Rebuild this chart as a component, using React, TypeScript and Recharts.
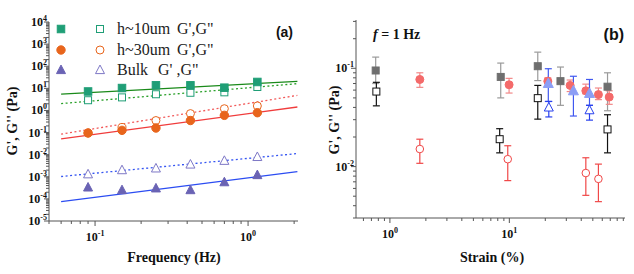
import React from "react";
import { ComposedChart, Scatter, Line, XAxis, YAxis, ErrorBar } from "recharts";

// ---------- Panel (a): frequency sweep ----------
const freqHz = [0.09, 0.15, 0.25, 0.42, 0.7, 1.15];
const gp10um = [7.2, 10.3, 13.7, 13.7, 10.7, 19.4];
const gpp10um = [2.9, 3.9, 5.4, 6.3, 6.6, 11.5];
const gp30um = [0.096, 0.126, 0.16, 0.35, 0.6, 0.79];
const gpp30um = [0.095, 0.17, 0.35, 0.72, 1.2, 1.6];
const gpBulk = [0.00033, 0.00025, 0.0003, 0.00025, 0.00057, 0.0012];
const gppBulk = [0.0013, 0.002, 0.0024, 0.0036, 0.0053, 0.0079];

const fitFreq = [0.06, 2.1];
const fitGp10um = [5.5, 20.8];
const fitGpp10um = [2.04, 16.3];
const fitGp30um = [0.052, 1.43];
const fitGpp30um = [0.085, 4.8];
const fitGpBulk = [7.6e-5, 0.0017];
const fitGppBulk = [0.00103, 0.0112];

// ---------- Panel (b): strain sweep at f = 1 Hz ----------
const strainGray = [0.76, 8.47, 17.3, 26.8, 66.4];
const gGray = [0.095, 0.0817, 0.105, 0.074, 0.065];
const gGrayLow = [0.07, 0.05, 0.075, 0.042, 0.037];
const gGrayHigh = [0.13, 0.113, 0.146, 0.103, 0.09];

const strainBlack = [0.77, 8.3, 17.3, 66.4];
const gBlack = [0.058, 0.019, 0.0497, 0.0239];
const gBlackLow = [0.0415, 0.0138, 0.0304, 0.0138];
const gBlackHigh = [0.072, 0.0243, 0.067, 0.0337];

const strainRed = [1.78, 9.95, 21, 32.3, 43.7, 55.7, 68.6];
const gRed = [0.077, 0.068, 0.074, 0.067, 0.059, 0.054, 0.051];
const gRedLow = [0.064, 0.056, 0.066, 0.058, 0.055, 0.048, 0.043];
const gRedHigh = [0.09, 0.079, 0.08, 0.076, 0.069, 0.063, 0.059];

const strainRedOpen = [1.78, 9.7, 43.7, 55.7];
const gRedOpen = [0.0151, 0.0119, 0.0086, 0.0075];
const gRedOpenLow = [0.0108, 0.0072, 0.0051, 0.0044];
const gRedOpenHigh = [0.019, 0.0163, 0.0123, 0.0106];

const strainBlue = [21.2, 34.4, 46.9];
const gBlue = [0.07, 0.059, 0.0555];
const gBlueLow = [0.046, 0.0327, 0.042];
const gBlueHigh = [0.099, 0.083, 0.077];

const strainBlueOpen = [21.4, 46.9];
const gBlueOpen = [0.04, 0.0375];
const gBlueOpenLow = [0.032, 0.0297];
const gBlueOpenHigh = [0.046, 0.042];

// ---------- axes ----------
const leftXDomain = [0.05, 2.12];
const leftYDomain = [1e-5, 1e4];
const rightXDomain = [0.52, 93];
const rightYDomain = [0.003, 0.31];

const logTicks = (lo: number, hi: number) => {
  const out: number[] = [];
  for (let e = Math.floor(Math.log10(lo)); e <= Math.ceil(Math.log10(hi)); e++) {
    for (let m = 1; m < 10; m++) {
      const v = Number((m * Math.pow(10, e)).toPrecision(6));
      if (v >= lo * 0.999 && v <= hi * 1.001) out.push(v);
    }
  }
  return out;
};
const leftXTicks = logTicks(leftXDomain[0], leftXDomain[1]);
const leftYTicks = logTicks(leftYDomain[0], leftYDomain[1]);
const rightXTicks = logTicks(rightXDomain[0], rightXDomain[1]);
const rightYTicks = logTicks(rightYDomain[0], rightYDomain[1]);

const AXIS = "#555";
const SERIF = '"Liberation Serif", "Times New Roman", serif';
const SANS = '"Liberation Sans", Arial, sans-serif';

const isMajor = (v: number) => Math.abs(Math.log10(v) - Math.round(Math.log10(v))) < 1e-6;
const expOf = (v: number) => String(Math.round(Math.log10(v)));

const XTick = (p: any) => {
  const { x, y, payload } = p;
  const v = payload.value;
  const major = isMajor(v);
  return (
    <g>
      <line x1={x} x2={x} y1={y} y2={y + (major ? 5 : 3)} stroke={AXIS} strokeWidth={1} />
      {major && (
        <text x={x} y={y + 20} textAnchor="middle" fontFamily={SERIF} fontWeight="bold" fontSize={12} fill="#111">
          10<tspan dy={-5} fontSize={8}>{expOf(v)}</tspan>
        </text>
      )}
    </g>
  );
};

const YTick = (p: any) => {
  const { x, y, payload } = p;
  const v = payload.value;
  const major = isMajor(v);
  return (
    <g>
      <line x1={x - (major ? 5 : 3)} x2={x} y1={y} y2={y} stroke={AXIS} strokeWidth={1} />
      {major && (
        <text x={x - 2} y={y + 4} textAnchor="end" fontFamily={SERIF} fontWeight="bold" fontSize={12} fill="#111">
          10<tspan dy={-5} fontSize={8}>{expOf(v)}</tspan>
        </text>
      )}
    </g>
  );
};

const pts = (xs: number[], ys: number[]) => xs.map((x, i) => ({ x, y: ys[i] }));
const ptsErr = (xs: number[], ys: number[], lo: number[], hi: number[]) =>
  xs.map((x, i) => ({ x, y: ys[i], err: [ys[i] - lo[i], hi[i] - ys[i]] }));

const square = (s: number, fill: string, stroke: string) => (p: any) =>
  <rect x={p.cx - s / 2} y={p.cy - s / 2} width={s} height={s} fill={fill} stroke={stroke} strokeWidth={1} />;
const circle = (r: number, fill: string, stroke: string) => (p: any) =>
  <circle cx={p.cx} cy={p.cy} r={r} fill={fill} stroke={stroke} strokeWidth={1} />;
const triangle = (s: number, fill: string, stroke: string) => (p: any) =>
  <polygon
    points={`${p.cx},${p.cy - s * 0.55} ${p.cx - s / 2},${p.cy + s * 0.4} ${p.cx + s / 2},${p.cy + s * 0.4}`}
    fill={fill} stroke={stroke} strokeWidth={1} strokeLinejoin="miter" />;

const C = {
  green: "#1f9e76",
  greenLine: "#1a8a1a",
  greenDot: "#2aa02a",
  orange: "#e8651c",
  redLine: "#f03c3c",
  redDot: "#f25a5a",
  purple: "#6a63b4",
  purpleOpen: "#7e78c6",
  blueLine: "#2b4cf2",
  blueDot: "#3555f2",
  gray: "#6e6e6e",
  grayErr: "#9a9a9a",
  black: "#111",
  red: "#f46a6a",
  redErr: "#f28888",
  redOpen: "#f04848",
  blue: "#8c9ef5",
  blueErr: "#4058f0",
  blueOpen: "#2840ee",
};

const EBW = 3.5;

const PanelA = () => (
  <ComposedChart width={320} height={274} margin={{ top: 22, right: 22, bottom: 0, left: 0 }}>
    <XAxis dataKey="x" type="number" scale="log" domain={leftXDomain} allowDataOverflow ticks={leftXTicks}
      interval={0} tickSize={0} tickMargin={0} tickLine={false} tick={(p: any) => <XTick {...p} />}
      height={53} axisLine={{ stroke: AXIS }} />
    <XAxis xAxisId="top" orientation="top" dataKey="x" type="number" scale="log" domain={leftXDomain} allowDataOverflow
      tick={false} tickLine={false} height={0} axisLine={{ stroke: AXIS }} />
    <YAxis dataKey="y" type="number" scale="log" domain={leftYDomain} allowDataOverflow ticks={leftYTicks}
      interval={0} tickSize={0} tickMargin={0} tickLine={false} tick={(p: any) => <YTick {...p} />}
      width={49} axisLine={{ stroke: AXIS }} />
    <YAxis yAxisId="right" orientation="right" dataKey="y" type="number" scale="log" domain={leftYDomain} allowDataOverflow
      tick={false} tickLine={false} width={0} axisLine={{ stroke: AXIS }} />

    <Line data={pts(fitFreq, fitGp10um)} dataKey="y" stroke={C.greenLine} strokeWidth={1.3} dot={false} isAnimationActive={false} />
    <Line data={pts(fitFreq, fitGpp10um)} dataKey="y" stroke={C.greenDot} strokeWidth={1.3} strokeDasharray="2 2.5" dot={false} isAnimationActive={false} />
    <Line data={pts(fitFreq, fitGp30um)} dataKey="y" stroke={C.redLine} strokeWidth={1.3} dot={false} isAnimationActive={false} />
    <Line data={pts(fitFreq, fitGpp30um)} dataKey="y" stroke={C.redDot} strokeWidth={1.3} strokeDasharray="2 2.5" dot={false} isAnimationActive={false} />
    <Line data={pts(fitFreq, fitGpBulk)} dataKey="y" stroke={C.blueLine} strokeWidth={1.3} dot={false} isAnimationActive={false} />
    <Line data={pts(fitFreq, fitGppBulk)} dataKey="y" stroke={C.blueDot} strokeWidth={1.3} strokeDasharray="2 2.5" dot={false} isAnimationActive={false} />

    <Scatter data={pts(freqHz, gpp10um)} shape={square(7, "#fff", C.green)} isAnimationActive={false} />
    <Scatter data={pts(freqHz, gp10um)} shape={square(7.5, C.green, C.green)} isAnimationActive={false} />
    <Scatter data={pts(freqHz, gpp30um)} shape={circle(4, "#fff", C.orange)} isAnimationActive={false} />
    <Scatter data={pts(freqHz, gp30um)} shape={circle(4.2, C.orange, C.orange)} isAnimationActive={false} />
    <Scatter data={pts(freqHz, gppBulk)} shape={triangle(9, "#fff", C.purpleOpen)} isAnimationActive={false} />
    <Scatter data={pts(freqHz, gpBulk)} shape={triangle(9, C.purple, C.purple)} isAnimationActive={false} />
  </ComposedChart>
);

const PanelB = () => (
  <ComposedChart width={314} height={274} margin={{ top: 20, right: 9, bottom: 0, left: 0 }}>
    <XAxis dataKey="x" type="number" scale="log" domain={rightXDomain} allowDataOverflow ticks={rightXTicks}
      interval={0} tickSize={0} tickMargin={0} tickLine={false} tick={(p: any) => <XTick {...p} />}
      height={56} axisLine={{ stroke: AXIS }} />
    <XAxis xAxisId="top" orientation="top" dataKey="x" type="number" scale="log" domain={rightXDomain} allowDataOverflow
      tick={false} tickLine={false} height={0} axisLine={{ stroke: AXIS }} />
    <YAxis dataKey="y" type="number" scale="log" domain={rightYDomain} allowDataOverflow ticks={rightYTicks}
      interval={0} tickSize={0} tickMargin={0} tickLine={false} tick={(p: any) => <YTick {...p} />}
      width={36} axisLine={{ stroke: AXIS }} />
    <YAxis yAxisId="right" orientation="right" dataKey="y" type="number" scale="log" domain={rightYDomain} allowDataOverflow
      tick={false} tickLine={false} width={0} axisLine={{ stroke: AXIS }} />

    <Scatter data={ptsErr(strainGray, gGray, gGrayLow, gGrayHigh)} shape={square(7, C.gray, C.gray)} isAnimationActive={false}>
      <ErrorBar dataKey="err" direction="y" width={EBW} stroke={C.grayErr} strokeWidth={1.2} />
    </Scatter>
    <Scatter data={ptsErr(strainBlack, gBlack, gBlackLow, gBlackHigh)} shape={square(7, "#fff", C.black)} isAnimationActive={false}>
      <ErrorBar dataKey="err" direction="y" width={EBW} stroke={C.black} strokeWidth={1.2} />
    </Scatter>
    <Scatter data={ptsErr(strainRed, gRed, gRedLow, gRedHigh)} shape={circle(4, C.red, C.red)} isAnimationActive={false}>
      <ErrorBar dataKey="err" direction="y" width={EBW} stroke={C.redErr} strokeWidth={1.2} />
    </Scatter>
    <Scatter data={ptsErr(strainRedOpen, gRedOpen, gRedOpenLow, gRedOpenHigh)} shape={circle(3.8, "#fff", C.redOpen)} isAnimationActive={false}>
      <ErrorBar dataKey="err" direction="y" width={EBW} stroke={C.redOpen} strokeWidth={1.2} />
    </Scatter>
    <Scatter data={ptsErr(strainBlue, gBlue, gBlueLow, gBlueHigh)} shape={triangle(10, C.blue, C.blue)} isAnimationActive={false}>
      <ErrorBar dataKey="err" direction="y" width={EBW} stroke={C.blueErr} strokeWidth={1.2} />
    </Scatter>
    <Scatter data={ptsErr(strainBlueOpen, gBlueOpen, gBlueOpenLow, gBlueOpenHigh)} shape={triangle(9, "#fff", C.blueOpen)} isAnimationActive={false}>
      <ErrorBar dataKey="err" direction="y" width={EBW} stroke={C.blueOpen} strokeWidth={1.2} />
    </Scatter>
  </ComposedChart>
);

const legendRows = [
  { label: "h~10um", tail: "G',G\"", tailX: 177, y: 29, filled: square(7.5, C.green, C.green), open: square(7, "#fff", C.green) },
  { label: "h~30um", tail: "G',G\"", tailX: 177, y: 50, filled: circle(4.2, C.orange, C.orange), open: circle(4, "#fff", C.orange) },
  { label: "Bulk", tail: "G' ,G\"", tailX: 158, y: 70, filled: triangle(9, C.purple, C.purple), open: triangle(9, "#fff", C.purpleOpen) },
];

export default function App() {
  return (
    <div style={{ position: "absolute", left: 0, top: 0, width: 634, height: 274, background: "#fff" }}>
      <div style={{ position: "absolute", left: 0, top: 0 }}>
        <PanelA />
      </div>
      <div style={{ position: "absolute", left: 320, top: 0 }}>
        <PanelB />
      </div>
      <svg width={634} height={274} style={{ position: "absolute", left: 0, top: 0, pointerEvents: "none" }}>
        {legendRows.map((r) => (
          <g key={r.label}>
            {r.filled({ cx: 61, cy: r.y })}
            {r.open({ cx: 100, cy: r.y })}
            <text x={117} y={r.y + 5} fontFamily={SERIF} fontSize={16} fill="#222">{r.label}</text>
            <text x={r.tailX} y={r.y + 5} fontFamily={SERIF} fontSize={16} fill="#222">{r.tail}</text>
          </g>
        ))}
        <text x={293} y={37} textAnchor="end" fontFamily={SANS} fontWeight="bold" fontSize={14} fill="#111">(a)</text>
        <text x={624} y={40} textAnchor="end" fontFamily={SANS} fontWeight="bold" fontSize={16} fill="#111">(b)</text>
        <text x={373} y={39} fontFamily={SERIF} fontWeight="bold" fontSize={14} fill="#111">
          <tspan fontStyle="italic">f</tspan> = 1 Hz
        </text>
        <text x={17} y={121} transform="rotate(-90 17 121)" textAnchor="middle" fontFamily={SERIF} fontWeight="bold" fontSize={14} fill="#111">G', G'' (Pa)</text>
        <text x={339} y={120} transform="rotate(-90 339 120)" textAnchor="middle" fontFamily={SERIF} fontWeight="bold" fontSize={14} fill="#111">G', G'' (Pa)</text>
        <text x={174} y={262} textAnchor="middle" fontFamily={SERIF} fontWeight="bold" fontSize={14} fill="#111">Frequency (Hz)</text>
        <text x={492} y={262} textAnchor="middle" fontFamily={SERIF} fontWeight="bold" fontSize={14} fill="#111">Strain (%)</text>
      </svg>
    </div>
  );
}
